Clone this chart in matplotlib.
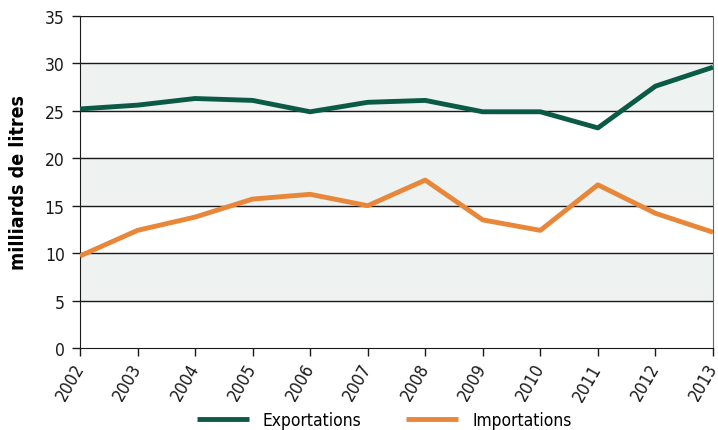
import matplotlib.pyplot as plt

plt.rcParams['font.family'] = ['DejaVu Sans']
plt.rcParams['font.stretch'] = 'condensed'

years = [2002, 2003, 2004, 2005, 2006, 2007, 2008, 2009, 2010, 2011, 2012, 2013]
exportations = [25.2, 25.6, 26.3, 26.1, 24.9, 25.9, 26.1, 24.9, 24.9, 23.2, 27.6, 29.6]
importations = [9.7, 12.4, 13.8, 15.7, 16.2, 15.0, 17.7, 13.5, 12.4, 17.2, 14.2, 12.2]

fig = plt.figure(figsize=(7.18, 4.31), dpi=100)
ax = fig.add_axes([0.1114, 0.1903, 0.8816, 0.7703])

# Alternating background bands
for lo in (5, 15, 25):
    ax.axhspan(lo, lo + 5, color='#eef2f0', zorder=0)
for y in range(5, 36, 5):
    ax.axhline(y, color='#1a1a1a', lw=1.0, zorder=1)

ax.plot(years, exportations, color='#0b5a45', lw=3.5, label='Exportations',
        solid_capstyle='butt', zorder=3)
ax.plot(years, importations, color='#e8873a', lw=3.5, label='Importations',
        solid_capstyle='butt', zorder=3)

ax.set_xlim(2002, 2013)
ax.set_ylim(0, 35)
ax.set_yticks(range(0, 36, 5))
ax.set_xticks(years)
ax.set_xticklabels([str(y) for y in years], rotation=60, ha='right',
                   va='center', rotation_mode='anchor')
ax.tick_params(axis='both', labelsize=12.5, length=6, width=1, color='#1a1a1a',
               labelcolor='#1a1a1a')
ax.tick_params(axis='x', pad=6)
ax.tick_params(axis='y', pad=5)

ax.spines['top'].set_visible(False)
ax.spines['right'].set_color('#666666')
ax.spines['left'].set_color('#1a1a1a')
ax.spines['bottom'].set_color('#1a1a1a')

ax.set_ylabel('milliards de litres', fontsize=14, fontweight='bold', labelpad=12)

fig.legend(loc='center', bbox_to_anchor=(0.535, 0.023), ncol=2, frameon=False,
           fontsize=12.5, handlelength=3.0, columnspacing=2.6, handletextpad=0.8)

fig.savefig('out.png', dpi=100)
